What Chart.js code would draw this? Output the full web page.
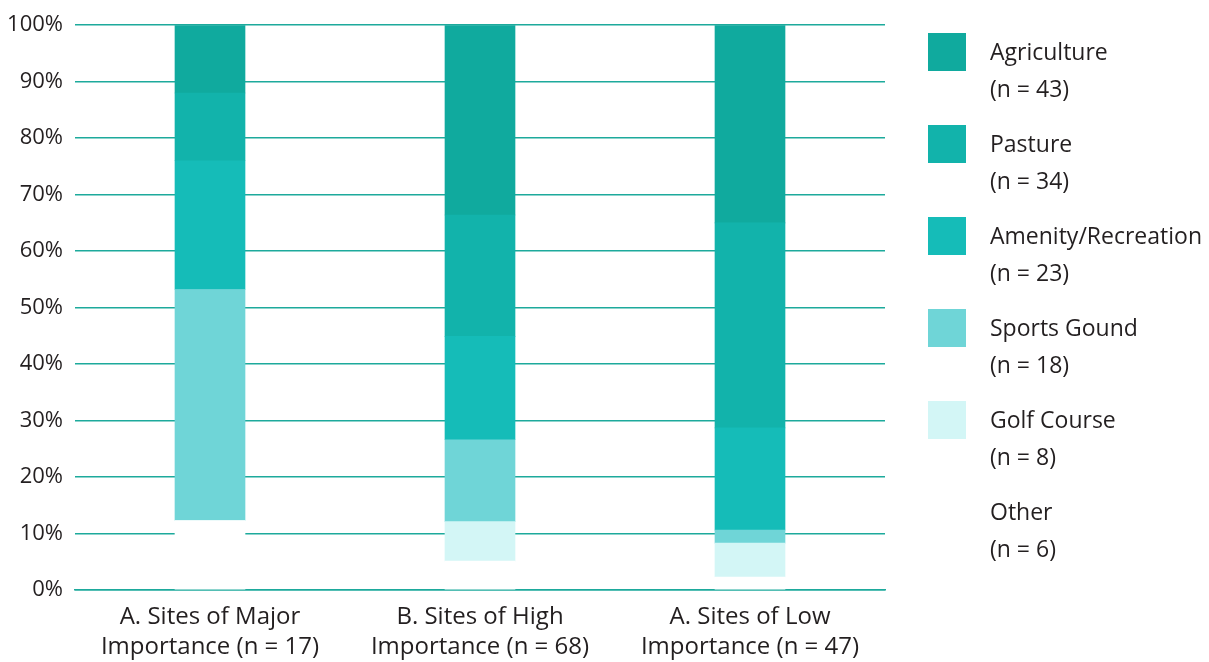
<!DOCTYPE html>
<html>
<head>
<meta charset="utf-8">
<script src="https://cdn.jsdelivr.net/npm/chart.js@4/dist/chart.umd.min.js"></script>
<style>
  html, body { margin: 0; padding: 0; background: #fff; }
  #wrap { position: relative; width: 1209px; height: 662px; }
  #legend { position: absolute; left: 928px; top: 33px; font-family: 'Open Sans', sans-serif; font-size: 23px; color: #231f20; }
  .item { position: relative; height: 92px; }
  .swatch { position: absolute; left: 0; top: 0; width: 38px; height: 38px; }
  .text { position: absolute; left: 62px; top: 0; line-height: 37px; white-space: nowrap; }
</style>
</head>
<body>
<div id="wrap">
  <canvas id="chart" width="1209" height="662"></canvas>
  <div id="legend"></div>
</div>
<script>
(() => {
  'use strict';
  const CATEGORIES = [
    ['A. Sites of Major', 'Importance (n = 17)'],
    ['B. Sites of High', 'Importance (n = 68)'],
    ['A. Sites of Low', 'Importance (n = 47)']
  ];
  const Y_TICKS = [0, 10, 20, 30, 40, 50, 60, 70, 80, 90, 100];

  // share of sites per land use, bottom segment first
  const OTHER       = [12.3, 5.1, 2.3];
  const GOLF        = [0, 7.0, 6.0];
  const SPORTS      = [40.9, 14.5, 2.3];
  const AMENITY     = [22.8, 18.3, 18.1];
  const PASTURE     = [12.0, 21.5, 36.3];
  const AGRICULTURE = [12.0, 33.6, 35.0];

  const SERIES = [
    { label: 'Other',              n: 6,  data: OTHER,       color: '#ffffff' },
    { label: 'Golf Course',        n: 8,  data: GOLF,        color: '#d3f6f6' },
    { label: 'Sports Gound',       n: 18, data: SPORTS,      color: '#6fd5d7' },
    { label: 'Amenity/Recreation', n: 23, data: AMENITY,     color: '#15bcb8' },
    { label: 'Pasture',            n: 34, data: PASTURE,     color: '#12b3ab' },
    { label: 'Agriculture',        n: 43, data: AGRICULTURE, color: '#10aa9e' }
  ];

  const TEAL = '#1daa9c';
  const INK = '#231f20';
  const FONT = "'Open Sans', sans-serif";

  const $ = id => document.getElementById(id);

  function renderLegend() {
    $('legend').innerHTML = SERIES.slice().reverse().map(s =>
      `<div class="item"><span class="swatch" style="background:${s.color}"></span>` +
      `<span class="text">${s.label}<br>(n = ${s.n})</span></div>`).join('');
  }

  function renderChart() {
    new Chart($('chart'), {
      type: 'bar',
      data: {
        labels: CATEGORIES,
        datasets: SERIES.map(s => ({
          label: s.label, data: s.data, backgroundColor: s.color,
          borderWidth: 0, barThickness: 70
        }))
      },
      options: {
        responsive: false, animation: false,
        layout: { padding: { top: 6, right: 324 } },
        plugins: { legend: { display: false }, tooltip: { enabled: false } },
        scales: {
          x: {
            stacked: true, z: 1,   // baseline drawn over the white "Other" segments
            grid: { display: false, drawTicks: false },
            border: { display: true, color: TEAL, width: 1.5 },
            ticks: { color: INK, font: { family: FONT, size: 24, lineHeight: 1.25 }, padding: 12, maxRotation: 0 },
            afterFit: scale => { scale.height = 72; }
          },
          y: {
            stacked: true, min: 0, max: 100,
            afterBuildTicks: scale => { scale.ticks = Y_TICKS.map(v => ({ value: v })); },
            grid: { color: TEAL, lineWidth: 1.5, drawTicks: false },
            border: { display: false },
            ticks: { color: INK, font: { family: FONT, size: 22 }, padding: 12, callback: v => v + '%' },
            afterFit: scale => { scale.width = 75; }
          }
        }
      }
    });
  }

  renderLegend();
  renderChart();
})();
</script>
</body>
</html>
